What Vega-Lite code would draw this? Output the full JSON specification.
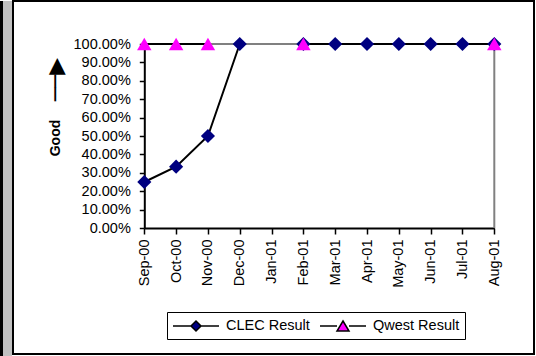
{
  "$schema": "https://vega.github.io/schema/vega-lite/v6.json",
  "background": "white",
  "padding": 0,
  "autosize": {"type": "pad"},
  "spacing": 0,
  "config": {"font": "Liberation Sans", "concat": {"spacing": 0}},
  "hconcat": [
    {
      "width": 3, "height": 356,
      "view": {"fill": "black", "stroke": null},
      "data": {"values": []},
      "mark": "rule",
      "encoding": {}
    },
    {
      "width": 9, "height": 356,
      "view": {"fill": "#c0c0c0", "stroke": null},
      "data": {"values": []},
      "mark": "rule",
      "encoding": {}
    },
    {
      "width": 521, "height": 353,
      "view": {"fill": "white", "stroke": "black", "strokeWidth": 2},
      "data": {"values": [
        {"month": "Sep-00", "series": "CLEC Result", "value": 0.25},
        {"month": "Oct-00", "series": "CLEC Result", "value": 0.3333},
        {"month": "Nov-00", "series": "CLEC Result", "value": 0.5},
        {"month": "Dec-00", "series": "CLEC Result", "value": 1},
        {"month": "Jan-01", "series": "CLEC Result", "value": null},
        {"month": "Feb-01", "series": "CLEC Result", "value": 1},
        {"month": "Mar-01", "series": "CLEC Result", "value": 1},
        {"month": "Apr-01", "series": "CLEC Result", "value": 1},
        {"month": "May-01", "series": "CLEC Result", "value": 1},
        {"month": "Jun-01", "series": "CLEC Result", "value": 1},
        {"month": "Jul-01", "series": "CLEC Result", "value": 1},
        {"month": "Aug-01", "series": "CLEC Result", "value": 1},
        {"month": "Sep-00", "series": "Qwest Result", "value": 1},
        {"month": "Oct-00", "series": "Qwest Result", "value": 1},
        {"month": "Nov-00", "series": "Qwest Result", "value": 1},
        {"month": "Dec-00", "series": "Qwest Result", "value": null},
        {"month": "Jan-01", "series": "Qwest Result", "value": null},
        {"month": "Feb-01", "series": "Qwest Result", "value": 1},
        {"month": "Mar-01", "series": "Qwest Result", "value": null},
        {"month": "Apr-01", "series": "Qwest Result", "value": null},
        {"month": "May-01", "series": "Qwest Result", "value": null},
        {"month": "Jun-01", "series": "Qwest Result", "value": null},
        {"month": "Jul-01", "series": "Qwest Result", "value": null},
        {"month": "Aug-01", "series": "Qwest Result", "value": 1}
      ]},
      "resolve": {"axis": {"y": "independent"}},
      "layer": [
        {
          "data": {"values": [{"month": "Aug-01", "value": 0, "value2": 1}]},
          "mark": {"type": "rule", "color": "#808080", "strokeWidth": 2},
          "encoding": {
            "x": {"field": "month", "type": "ordinal",
              "scale": {"type": "point", "domain": ["Sep-00","Oct-00","Nov-00","Dec-00","Jan-01","Feb-01","Mar-01","Apr-01","May-01","Jun-01","Jul-01","Aug-01"], "range": [131.3, 481.3], "padding": 0},
              "axis": {"title": null, "labelAngle": 270, "labelAlign": "right", "labelBaseline": "middle", "offset": -126, "tickSize": 6, "labelPadding": 5, "domainColor": "black", "tickColor": "black", "domainWidth": 2, "tickWidth": 1.5, "labelFontSize": 14.5, "labelColor": "black", "grid": false}},
            "y": {"field": "value", "type": "quantitative",
              "scale": {"domain": [0, 1], "range": [227, 43], "nice": false, "zero": false},
              "axis": {"orient": "left", "values": [0, 0.1, 0.2, 0.3, 0.4, 0.5, 0.6, 0.7, 0.8, 0.9, 1], "format": ".2%", "labelOverlap": false, "offset": -131.3, "tickSize": 5, "labelPadding": 9, "title": "Good", "titleX": -89, "titleY": 136.5, "titleAngle": 270, "titleAlign": "center", "titleBaseline": "middle", "titleFontSize": 14, "titleFontWeight": "bold", "titleColor": "black", "grid": false, "domainColor": "black", "tickColor": "black", "domainWidth": 2, "tickWidth": 1.5, "labelFontSize": 14.5, "labelColor": "black"}},
            "y2": {"field": "value2"}
          }
        },
        {
          "data": {"values": [{"month": "Sep-00", "value": 1}, {"month": "Aug-01", "value": 1}]},
          "mark": {"type": "line", "color": "#808080", "strokeWidth": 2},
          "encoding": {
            "x": {"field": "month", "type": "ordinal"},
            "y": {"field": "value", "type": "quantitative",
              "axis": {"orient": "left", "offset": 0, "title": "──▶", "titleFont": "DejaVu Sans", "titleFontSize": 22, "titleFontWeight": "normal", "titleColor": "black", "titleX": 42.5, "titleY": 78, "titleAngle": 270, "titleAlign": "center", "titleBaseline": "middle", "labels": false, "ticks": false, "domain": false, "grid": false}}
          }
        },
        {
          "mark": {"type": "line", "color": "black", "strokeWidth": 2},
          "encoding": {
            "x": {"field": "month", "type": "ordinal"},
            "y": {"field": "value", "type": "quantitative", "axis": null},
            "detail": {"field": "series"}
          }
        },
        {
          "transform": [{"filter": "datum.series === 'CLEC Result'"}],
          "mark": {"type": "point", "shape": "diamond", "filled": true, "color": "#000080", "size": 200, "opacity": 1},
          "encoding": {
            "x": {"field": "month", "type": "ordinal"},
            "y": {"field": "value", "type": "quantitative", "axis": null}
          }
        },
        {
          "transform": [{"filter": "datum.series === 'Qwest Result'"}],
          "mark": {"type": "point", "shape": "triangle-up", "filled": true, "color": "#ff00ff", "size": 210, "opacity": 1},
          "encoding": {
            "x": {"field": "month", "type": "ordinal"},
            "y": {"field": "value", "type": "quantitative", "axis": null}
          }
        },
        {
          "transform": [{"filter": {"field": "series", "equal": "none"}}],
          "mark": {"type": "point", "filled": true, "stroke": "black", "strokeWidth": 1.5},
          "encoding": {
            "fill": {"field": "series", "type": "nominal",
              "scale": {"domain": ["CLEC Result", "Qwest Result"], "range": ["#000080", "#ff00ff"]},
              "legend": {"orient": "none", "legendX": 167, "legendY": 311, "direction": "horizontal", "title": null, "strokeColor": "black", "fillColor": "white", "padding": 5, "symbolSize": 256, "symbolOpacity": 1, "symbolOffset": 15, "labelFontSize": 14.5, "labelColor": "black", "labelOffset": 21, "columnPadding": 7}},
            "shape": {"field": "series", "type": "nominal",
              "scale": {"domain": ["CLEC Result", "Qwest Result"], "range": ["M-2.875,0L-0.625,0M0.625,0L2.875,0M0,-0.625L0.625,0L0,0.625L-0.625,0Z", "M-2.875,0L-0.75,0M0.75,0L2.875,0M0,-0.625L0.75,0.625L-0.75,0.625Z"]},
              "legend": {"orient": "none", "legendX": 167, "legendY": 311, "direction": "horizontal", "title": null, "strokeColor": "black", "fillColor": "white", "padding": 5, "symbolSize": 256, "symbolOpacity": 1, "symbolOffset": 15, "labelFontSize": 14.5, "labelColor": "black", "labelOffset": 21, "columnPadding": 7}}
          }
        }
      ]
    }
  ]
}
